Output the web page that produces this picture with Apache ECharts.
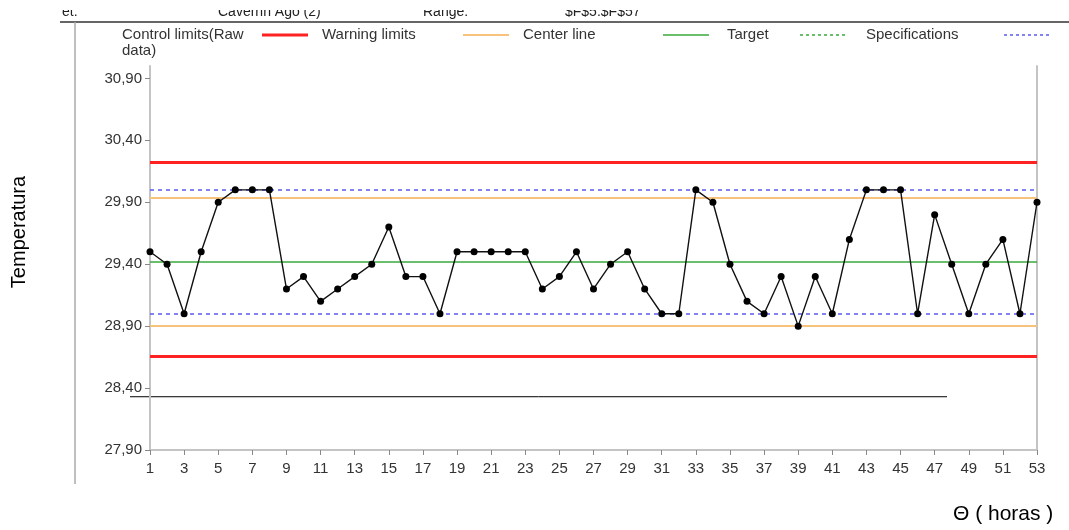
<!DOCTYPE html>
<html>
<head>
<meta charset="utf-8">
<script src="https://cdn.jsdelivr.net/npm/echarts@6/dist/echarts.min.js"></script>
<style>
  html, body { margin: 0; padding: 0; background: #fff; }
  #chart { width: 1069px; height: 530px; }
</style>
</head>
<body>
<div id="chart"></div>
<script>
// Hourly temperature readings (Θ = 1..53 h)
const horas = ['1','2','3','4','5','6','7','8','9','10','11','12','13','14','15','16','17','18','19','20',
  '21','22','23','24','25','26','27','28','29','30','31','32','33','34','35','36','37','38','39','40',
  '41','42','43','44','45','46','47','48','49','50','51','52','53'];
const temperatura = [29.5, 29.4, 29.0, 29.5, 29.9, 30.0, 30.0, 30.0, 29.2, 29.3,
  29.1, 29.2, 29.3, 29.4, 29.7, 29.3, 29.3, 29.0, 29.5, 29.5,
  29.5, 29.5, 29.5, 29.2, 29.3, 29.5, 29.2, 29.4, 29.5, 29.2,
  29.0, 29.0, 30.0, 29.9, 29.4, 29.1, 29.0, 29.3, 28.9, 29.3,
  29.0, 29.6, 30.0, 30.0, 30.0, 29.0, 29.8, 29.4, 29.0, 29.4,
  29.6, 29.0, 29.9];

// Reference lines of the control chart
const controlLimits = [28.66, 30.22];
const warningLimits = [28.90, 29.94];
const centerLine = [29.42];
const specifications = [29.0, 30.0];
const baseLine = [28.33];

// Axis ticks
const yTicks = [27.9, 28.4, 28.9, 29.4, 29.9, 30.4, 30.9];
const yMin = 27.9, yMax = 31.0;

const RED = '#ff2222', ORANGE = '#f7c27c', GREEN = '#3aa83a', BLUE = '#5a5af0';
const FONT = '"Liberation Sans", Arial, sans-serif';

function hLines(values, style) {
  return values.map(v => ({ yAxis: v, lineStyle: style }));
}

const chart = echarts.init(document.getElementById('chart'));

// legend: text followed by a line sample
const legendItems = [
  { text: 'Control limits(Raw\ndata)', x: 122, lx: 262, style: { stroke: RED, lineWidth: 3 } },
  { text: 'Warning limits', x: 322, lx: 463, style: { stroke: ORANGE, lineWidth: 2 } },
  { text: 'Center line', x: 523, lx: 663, style: { stroke: GREEN, lineWidth: 1.5 } },
  { text: 'Target', x: 727, lx: 800, style: { stroke: GREEN, lineWidth: 1.5, lineDash: [3, 3] } },
  { text: 'Specifications', x: 866, lx: 1004, style: { stroke: BLUE, lineWidth: 1.5, lineDash: [3, 3] } }
];
const graphics = [];
legendItems.forEach(it => {
  graphics.push({ type: 'text', left: it.x, top: 27, style: { text: it.text, font: '15px ' + FONT, fill: '#333', lineHeight: 16 } });
  graphics.push({ type: 'line', shape: { x1: it.lx, y1: 35, x2: it.lx + 46, y2: 35 }, style: it.style });
});

// header strip
graphics.push(
  { type: 'text', left: 62, top: 5, style: { text: 'et:', font: '14px ' + FONT, fill: '#222' } },
  { type: 'text', left: 218, top: 5, style: { text: 'Cavernn Ago (2)', font: '14px ' + FONT, fill: '#222' } },
  { type: 'text', left: 423, top: 5, style: { text: 'Range:', font: '14px ' + FONT, fill: '#222' } },
  { type: 'text', left: 565, top: 5, style: { text: '$F$5:$F$57', font: '14px ' + FONT, fill: '#222' } },
  { type: 'rect', shape: { x: 0, y: 0, width: 1069, height: 10 }, style: { fill: '#fff' }, z: 10 },
  { type: 'line', shape: { x1: 60, y1: 22, x2: 1069, y2: 22 }, style: { stroke: '#333', lineWidth: 1.5 } },
  { type: 'line', shape: { x1: 75, y1: 22, x2: 75, y2: 484 }, style: { stroke: '#aaa', lineWidth: 1.5 } },
  { type: 'text', x: 19, y: 232, rotation: Math.PI / 2, style: { text: 'Temperatura', font: '20px ' + FONT, fill: '#000', align: 'center', verticalAlign: 'middle' } },
  { type: 'text', left: 953, top: 504, style: { text: 'Θ ( horas )', font: '21px ' + FONT, fill: '#000' } }
);

chart.setOption({
  animation: false,
  backgroundColor: '#fff',
  grid: { left: 150, right: 32, top: 66, bottom: 80 },
  xAxis: {
    type: 'category',
    data: horas,
    boundaryGap: false,
    axisLine: { lineStyle: { color: '#c4c4c4', width: 2 } },
    axisTick: { interval: 1, length: 5, lineStyle: { color: '#888' } },
    axisLabel: { interval: 1, margin: 11, color: '#333', fontFamily: FONT, fontSize: 15 },
    splitLine: { show: false }
  },
  yAxis: [{
    type: 'value',
    min: yMin,
    max: yMax,
    axisLine: { show: true, lineStyle: { color: '#c4c4c4', width: 2 } },
    axisTick: { show: true, length: 5, customValues: yTicks, lineStyle: { color: '#888' } },
    axisLabel: {
      customValues: yTicks, margin: 8, color: '#333', fontFamily: FONT, fontSize: 15,
      formatter: v => v.toFixed(2).replace('.', ',')
    },
    splitLine: { show: false }
  }, {
    type: 'value',
    position: 'right',
    min: yMin,
    max: yMax,
    axisLine: { show: true, lineStyle: { color: '#c4c4c4', width: 2 } },
    axisTick: { show: false },
    axisLabel: { show: false },
    splitLine: { show: false }
  }],
  graphic: graphics,
  series: [{
    type: 'line',
    data: temperatura,
    symbol: 'circle',
    symbolSize: 7,
    itemStyle: { color: '#000' },
    lineStyle: { color: '#111', width: 1.4 },
    z: 5,
    markLine: {
      silent: true,
      symbol: 'none',
      label: { show: false },
      z: 2,
      data: [
        ...hLines(controlLimits, { color: RED, width: 3, type: 'solid' }),
        ...hLines(warningLimits, { color: ORANGE, width: 2, type: 'solid' }),
        ...hLines(centerLine, { color: GREEN, width: 1.5, type: 'solid' }),
        ...hLines(specifications, { color: BLUE, width: 1.5, type: [4, 4] })
      ]
    }
  }]
});

// stray rule drawn across the lower part of the plot
const p0 = chart.convertToPixel({ xAxisIndex: 0, yAxisIndex: 0 }, [0, baseLine[0]]);
chart.setOption({
  graphic: graphics.concat([{
    type: 'line',
    shape: { x1: p0[0] - 20, y1: p0[1], x2: 947, y2: p0[1] },
    style: { stroke: '#000', lineWidth: 1 }
  }])
});
</script>
</body>
</html>
